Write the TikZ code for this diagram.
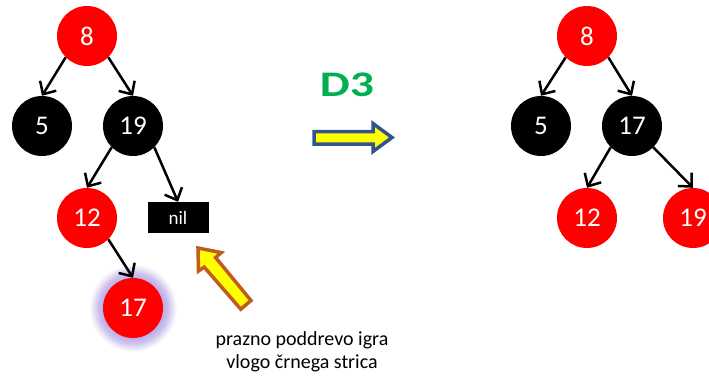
\documentclass[tikz,border=0pt]{standalone}
\usepackage{fontspec}
\setmainfont{Carlito}
\usetikzlibrary{arrows.meta,backgrounds}

\definecolor{rbred}{RGB}{255,0,0}
\definecolor{glowc}{RGB}{188,174,232}
\definecolor{titlegreen}{RGB}{0,176,80}
\definecolor{fatblue}{RGB}{50,84,140}
\definecolor{fatorange}{RGB}{192,92,30}
\definecolor{fatyellow}{RGB}{255,255,0}

% soft halo used to highlight the newly inserted node
\pgfdeclareradialshading{halo}{\pgfpoint{0bp}{0bp}}{%
  color(0bp)=(glowc); color(17bp)=(glowc);
  color(20bp)=(glowc!75!white); color(22.5bp)=(glowc!35!white);
  color(25bp)=(white); color(50bp)=(white)}

\begin{document}
\begin{tikzpicture}[x=1pt,y=-1pt,
  rbnode/.style={circle, minimum size=60pt, inner sep=0pt, text=white,
    font=\fontsize{27}{30}\selectfont},
  rednode/.style={rbnode, fill=rbred},
  blacknode/.style={rbnode, fill=black},
  nilnode/.style={rectangle, fill=black, text=white, minimum width=61pt,
    minimum height=31pt, inner sep=0pt, font=\fontsize{19}{22}\selectfont},
  link/.style={line width=2.5pt,
    -{Straight Barb[length=10pt,width=19pt,line width=2.5pt]}},
  fatarrow/.style={line width=3.5pt, line join=miter, fill=fatyellow}]
\useasboundingbox (0,0) rectangle (709,378);

% tree before the case D3 rotation
\node[rednode]   (a8)  at (87,36)   {8};
\node[blacknode] (a5)  at (42,126)  {5};
\node[blacknode] (a19) at (133,126) {19};
\node[rednode]   (a12) at (87,218)  {12};
\node[nilnode]   (anil) at (178,217.5) {nil};
\node[rednode]   (a17) at (133,308) {17};
\begin{scope}[on background layer]
  \shade[shading=halo] (a17.center) circle (44);
\end{scope}

\draw[link] (a8.south west)  -- (a5.north);
\draw[link] (a8.south east)  -- (a19.north);
\draw[link] (a19.south west) -- (a12.north);
\draw[link] (a19.south east) -- (anil.north);
\draw[link] (a12.south east) -- (a17.north);

% tree after the rotation
\node[rednode]   (b8)  at (587,36)  {8};
\node[blacknode] (b5)  at (541,126) {5};
\node[blacknode] (b17) at (632,126) {17};
\node[rednode]   (b12) at (587,218) {12};
\node[rednode]   (b19) at (693,218) {19};

\draw[link] (b8.south west)  -- (b5.north);
\draw[link] (b8.south east)  -- (b17.north);
\draw[link] (b17.south west) -- (b12.north);
\draw[link] (b17.south east) -- (b19.north);

% case label and transition arrow
\node[text=titlegreen, font=\bfseries\fontsize{36}{40}\selectfont] (case)
  at (347,85) {\scalebox{1.32}[1]{D3}};
\draw[fatarrow, draw=fatblue]
  (392,137.5) -- (373,123.5) -- (373,131.5) -- (314,131.5) -- (314,144)
  -- (373,144) -- (373,151.5) -- cycle;

% pointer to the empty subtree
\draw[fatarrow, draw=fatorange]
  (198,248) -- (221.3,252.6) -- (215.6,257.5) -- (251,300.5)
  -- (240.8,309.2) -- (204.2,267.1) -- (198.5,271) -- cycle;

\node[align=center, font=\fontsize{20}{23}\selectfont] (note) at (302,352)
  {prazno poddrevo igra\\vlogo črnega strica};
\end{tikzpicture}
\end{document}
